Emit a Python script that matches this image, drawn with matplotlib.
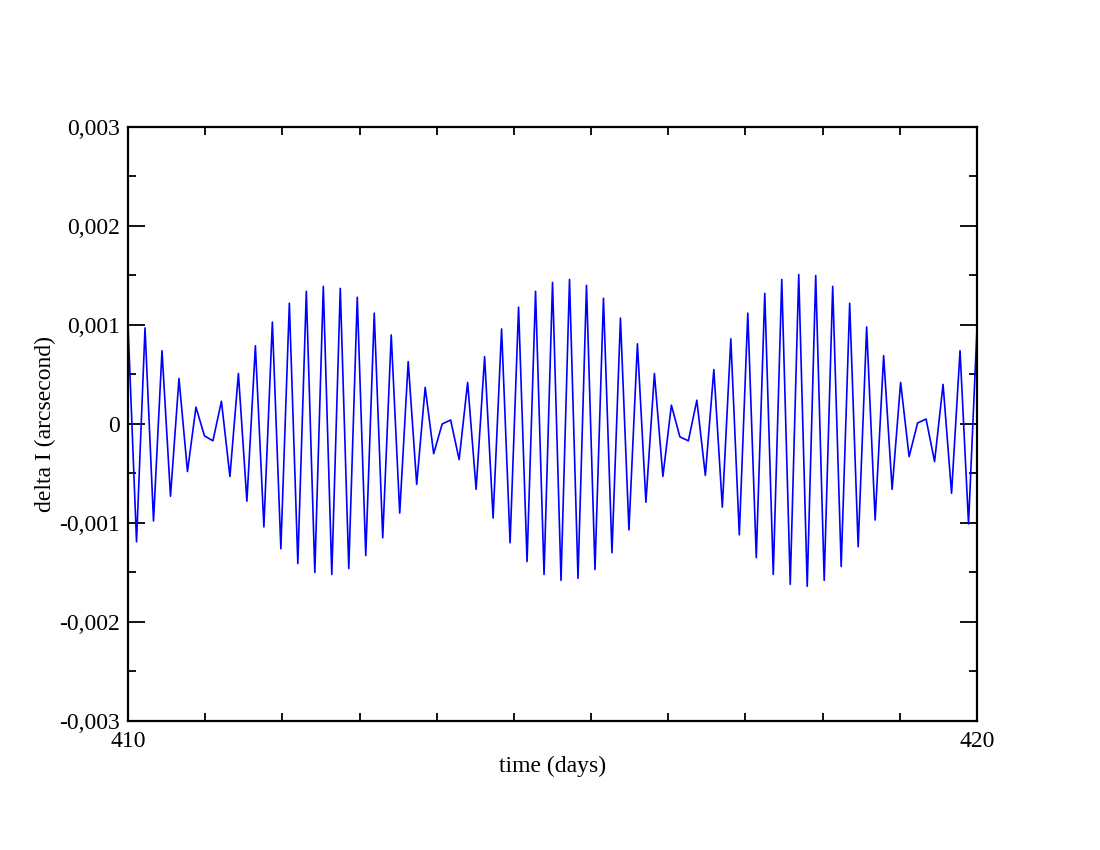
import numpy as np
import matplotlib
matplotlib.use("Agg")
import matplotlib.pyplot as plt
from matplotlib.ticker import FuncFormatter, MultipleLocator, FixedLocator

# sampling grid: every 0.1 day from 410 to 420
time_days = np.round(410 + 0.1 * np.arange(101), 1)

# delta I in units of 1e-3 arcsecond
delta_i_milli = np.array([
    1.00, -1.19, 0.97, -0.98, 0.74, -0.73, 0.46, -0.48, 0.17, -0.12,
    -0.17, 0.23, -0.53, 0.51, -0.78, 0.79, -1.04, 1.03, -1.26, 1.22,
    -1.41, 1.34, -1.50, 1.39, -1.52, 1.37, -1.46, 1.28, -1.33, 1.12,
    -1.15, 0.90, -0.90, 0.63, -0.61, 0.37, -0.30, 0.00, 0.04, -0.36,
    0.42, -0.66, 0.68, -0.95, 0.96, -1.20, 1.18, -1.39, 1.34, -1.52,
    1.43, -1.58, 1.46, -1.56, 1.40, -1.47, 1.27, -1.30, 1.07, -1.07,
    0.81, -0.79, 0.51, -0.53, 0.19, -0.13, -0.17, 0.24, -0.52, 0.55,
    -0.84, 0.86, -1.12, 1.12, -1.35, 1.32, -1.52, 1.46, -1.62, 1.51,
    -1.64, 1.50, -1.58, 1.39, -1.44, 1.22, -1.24, 0.98, -0.97, 0.69,
    -0.66, 0.42, -0.33, 0.01, 0.05, -0.38, 0.40, -0.70, 0.74, -1.01,
    0.97,
])
delta_i = delta_i_milli * 1e-3

x_major = [410, 420]
x_minor = [410 + k * 10 / 11 for k in range(1, 11)]

plt.rcParams['font.family'] = ['Liberation Serif', 'DejaVu Serif']

fig = plt.figure(figsize=(11, 8.5), dpi=100)
ax = fig.add_axes([0.1164, 0.1518, 0.7718, 0.6988])

ax.plot(time_days, delta_i, color='#0000ff', linewidth=1.2)

ax.set_xlim(410, 420)
ax.set_ylim(-0.003, 0.003)

ax.xaxis.set_major_locator(FixedLocator(x_major))
ax.xaxis.set_minor_locator(FixedLocator(x_minor))
ax.yaxis.set_major_locator(MultipleLocator(0.001))
ax.yaxis.set_minor_locator(MultipleLocator(0.0005))


def comma_fmt(v, pos):
    if abs(v) < 1e-12:
        return "0"
    return ("%.3f" % v).replace(".", ",")


ax.yaxis.set_major_formatter(FuncFormatter(comma_fmt))
ax.xaxis.set_major_formatter(FuncFormatter(lambda v, p: "%d" % round(v)))

ax.tick_params(which='both', direction='in', top=True, right=True,
               labelsize=17, width=1.3, color='black')
ax.tick_params(which='major', length=12)
ax.tick_params(which='minor', length=6)
ax.tick_params(axis='y', which='major', pad=6)
ax.tick_params(axis='x', which='major', pad=7)

for s in ax.spines.values():
    s.set_linewidth(1.6)

ax.set_xlabel("time (days)", fontsize=17, labelpad=3)
ax.set_ylabel("delta I (arcsecond)", fontsize=17, labelpad=2)

fig.savefig("out.png", dpi=100)
